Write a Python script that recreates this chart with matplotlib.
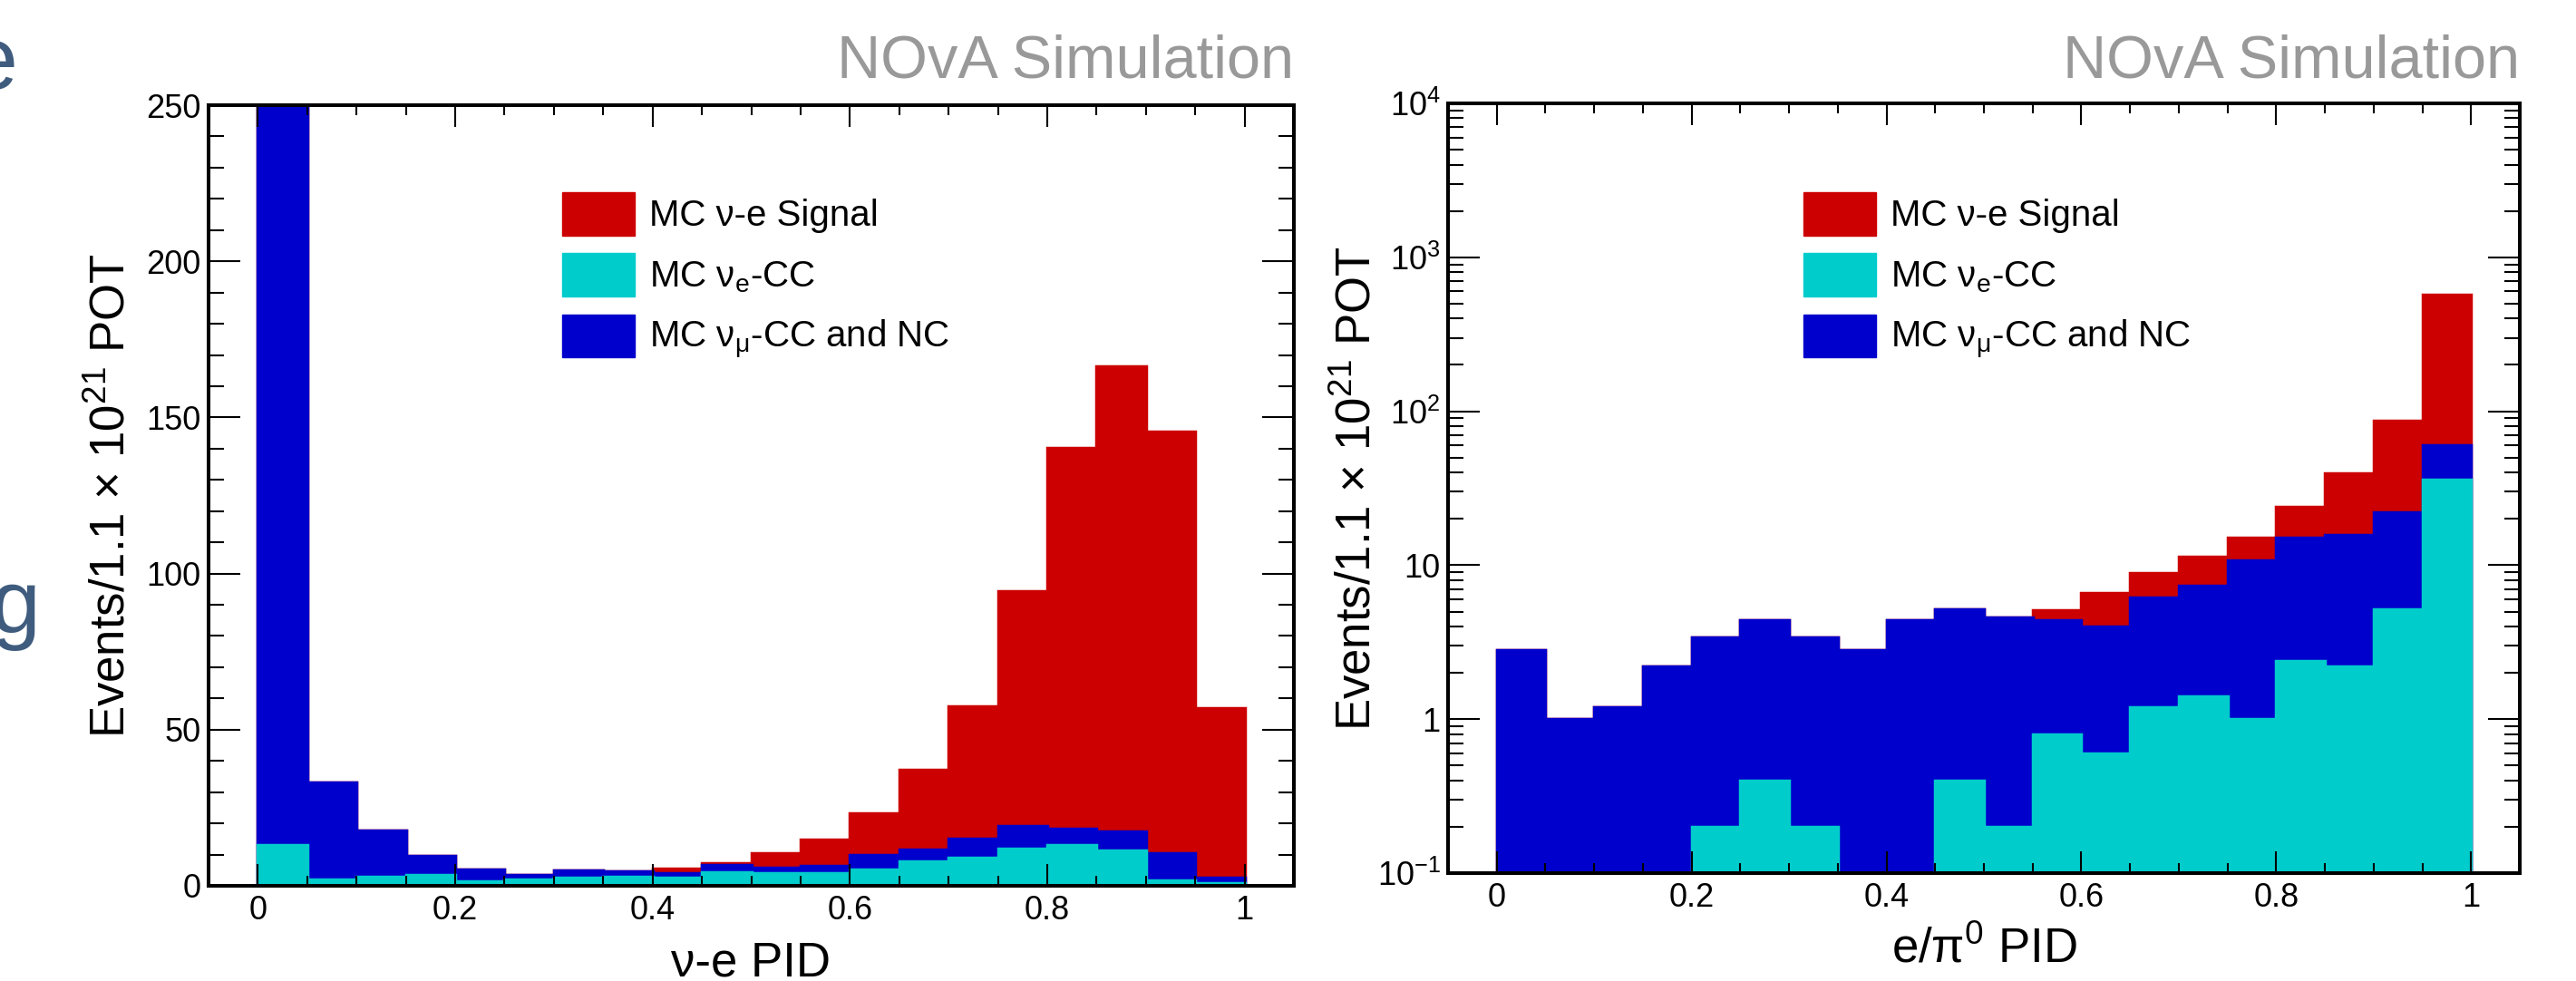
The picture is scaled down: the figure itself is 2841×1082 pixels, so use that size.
import numpy as np
import matplotlib
matplotlib.use("Agg")
import matplotlib.pyplot as plt
from matplotlib.patches import Patch
from matplotlib.ticker import MultipleLocator, FixedLocator, FixedFormatter, LogLocator, NullFormatter, FuncFormatter

plt.rcParams['font.family'] = ['Liberation Sans', 'DejaVu Sans']
plt.rcParams['mathtext.fontset'] = 'custom'
plt.rcParams['mathtext.rm'] = 'Liberation Sans'
plt.rcParams['mathtext.it'] = 'Liberation Sans:italic'
plt.rcParams['mathtext.default'] = 'regular'

# ---- data: 20 bins of width 0.05 in [0, 1] ----
bin_edges = np.linspace(0.0, 1.0, 21)

# left: nu-e PID (events per bin, components of the stack)
nue_pid_signal = [0, 0, 0, 0, 0, 0, 0, 0, 1.6, 0.5, 4.6, 8.3, 13.3, 25.6, 42.5, 75.0, 122.0, 149.0, 135.0, 54.3]
nue_pid_nuecc = [13.0, 2.0, 3.0, 3.6, 1.4, 2.0, 2.6, 3.0, 2.6, 4.3, 4.1, 4.1, 5.1, 7.7, 9.1, 12.0, 13.0, 11.3, 1.7, 0.9]
nue_pid_bkg = [300.0, 31.0, 14.6, 6.0, 3.8, 1.6, 2.4, 1.6, 1.4, 2.5, 1.8, 2.3, 4.7, 3.9, 5.9, 7.3, 5.3, 6.1, 8.8, 1.6]

# right: e/pi0 PID
epi0_signal = [0, 0, 0, 0, 0, 0, 0, 0, 0, 0, 0, 0.7, 2.6, 2.7, 3.9, 4.4, 8.9, 23.8, 65.0, 514.0]
epi0_nuecc = [0, 0, 0, 0, 0.2, 0.4, 0.2, 0, 0, 0.4, 0.2, 0.8, 0.6, 1.2, 1.4, 1.0, 2.4, 2.2, 5.2, 35.8]
epi0_bkg = [2.8, 1.0, 1.2, 2.2, 3.2, 4.0, 3.2, 2.8, 4.4, 4.8, 4.4, 3.6, 3.4, 5.0, 6.0, 9.8, 12.8, 13.6, 16.8, 24.2]

labels = ['MC ν-e Signal', 'MC ν$_{e}$-CC', 'MC ν$_{μ}$-CC and NC']
col_sig = '#cc0000'
col_nue = '#00cccc'
col_bkg = '#0000cc'

W, H = 2841, 1082
fig = plt.figure(figsize=(W / 100, H / 100), dpi=100)


def px_axes(x0, y0, x1, y1):
    return fig.add_axes([x0 / W, 1 - y1 / H, (x1 - x0) / W, (y1 - y0) / H])


def draw_stack(ax, sig, nue, bkg, base):
    nue = np.array(nue, float)
    mid = nue + np.array(bkg, float)
    top = mid + np.array(sig, float)
    # red (total) also spans the empty under/overflow bins
    edges_ext = np.concatenate([[bin_edges[0] - 0.05], bin_edges, [bin_edges[-1] + 0.05]])
    top_ext = np.pad(top, 1)
    ax.stairs(np.maximum(top_ext, base), edges_ext, baseline=base, fill=True,
              facecolor=col_sig, edgecolor=col_sig, lw=2.5)
    ax.stairs(np.maximum(mid, base), bin_edges, baseline=base, fill=True,
              facecolor=col_bkg, edgecolor=col_bkg, lw=2.5)
    ax.stairs(np.maximum(nue, base), bin_edges, baseline=base, fill=True,
              facecolor=col_nue, edgecolor=col_nue, lw=2.5)


def style_axes(ax, ymaj, ymin_len):
    for s in ax.spines.values():
        s.set_linewidth(2.9)
        s.set_zorder(5)
    ax.set_xlim(-0.05, 1.05)
    ax.xaxis.set_major_locator(MultipleLocator(0.2))
    ax.xaxis.set_minor_locator(MultipleLocator(0.05))
    ax.xaxis.set_major_formatter(FuncFormatter(lambda v, p: '%g' % round(v, 2)))
    ax.tick_params(axis='both', which='both', direction='in', top=True, right=True,
                   labelsize=26, width=1.5)
    ax.tick_params(axis='x', which='major', length=17, pad=7)
    ax.tick_params(axis='x', which='minor', length=8)
    ax.tick_params(axis='y', which='major', length=ymaj, pad=6)
    ax.tick_params(axis='y', which='minor', length=ymin_len)
    leg_handles = [Patch(facecolor=c, edgecolor=c) for c in (col_sig, col_nue, col_bkg)]
    return leg_handles


ylab = 'Events/1.1 × 10$^{21}$ POT'

# ---- left panel ----
ax1 = px_axes(230, 116, 1427, 977)
draw_stack(ax1, nue_pid_signal, nue_pid_nuecc, nue_pid_bkg, 0)
ax1.set_ylim(0, 250)
ax1.yaxis.set_major_locator(MultipleLocator(50))
ax1.yaxis.set_minor_locator(MultipleLocator(10))
h = style_axes(ax1, 25, 12)
ax1.set_xlabel('ν-e PID', fontsize=38)
ax1.xaxis.set_label_coords(0.5, -0.07)
ax1.set_ylabel(ylab, fontsize=38)
ax1.yaxis.set_label_coords(-0.068, 0.5)
ax1.legend(h, labels, loc='upper left', bbox_to_anchor=(0.326, 0.8885), frameon=False,
           fontsize=29, borderpad=0, borderaxespad=0, handlelength=1.98, handleheight=1.44,
           labelspacing=0.49, handletextpad=0.41)

# ---- right panel ----
ax2 = px_axes(1597, 114, 2779, 963)
ax2.set_yscale('log')
draw_stack(ax2, epi0_signal, epi0_nuecc, epi0_bkg, 0.1)
ax2.set_ylim(0.1, 1e4)
ax2.yaxis.set_major_locator(FixedLocator([0.1, 1, 10, 100, 1000, 10000]))
ax2.yaxis.set_major_formatter(FixedFormatter(['$10^{-1}$', '1', '10', '$10^{2}$', '$10^{3}$', '$10^{4}$']))
ax2.yaxis.set_minor_locator(LogLocator(base=10, subs=np.arange(2, 10), numticks=20))
ax2.yaxis.set_minor_formatter(NullFormatter())
h = style_axes(ax2, 25, 12)
ax2.set_xlabel('e/π$^{0}$ PID', fontsize=38)
ax2.xaxis.set_label_coords(0.5, -0.07)
ax2.set_ylabel(ylab, fontsize=38)
ax2.yaxis.set_label_coords(-0.063, 0.5)
ax2.legend(h, labels, loc='upper left', bbox_to_anchor=(0.3316, 0.8846), frameon=False,
           fontsize=29, borderpad=0, borderaxespad=0, handlelength=1.98, handleheight=1.44,
           labelspacing=0.49, handletextpad=0.41)

# ---- "NOvA Simulation" tags ----
fig.text(1427 / W, 1 - 86 / H, 'NOvA Simulation', ha='right', va='baseline', fontsize=48, color='#999999')
fig.text(2779 / W, 1 - 86 / H, 'NOvA Simulation', ha='right', va='baseline', fontsize=48, color='#999999')

# bits of slide text cut off at the left edge
fig.text(20 / W, 1 - 98 / H, 'e', ha='right', va='baseline', fontsize=71, color='#3f5c7e')
fig.text(45 / W, 1 - 698 / H, 'g', ha='right', va='baseline', fontsize=71, color='#3f5c7e')

fig.savefig('out.png', dpi=100)
